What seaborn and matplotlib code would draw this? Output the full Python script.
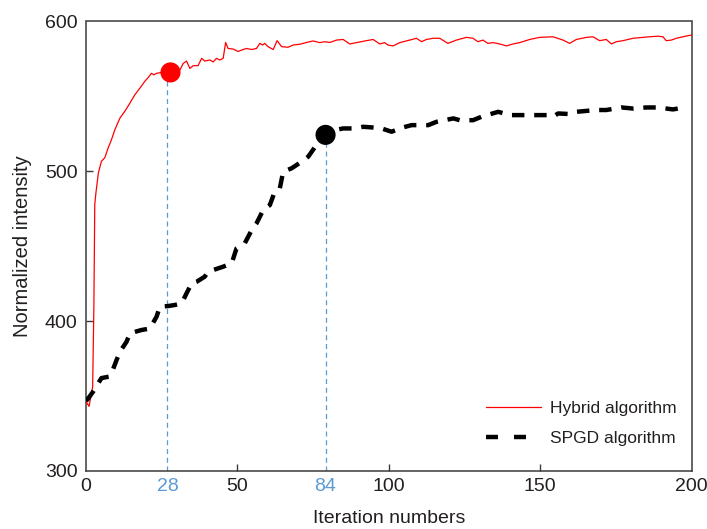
import numpy as np
import pandas as pd
import matplotlib
matplotlib.use("Agg")
import matplotlib.pyplot as plt
import seaborn as sns

# ---------------- data ----------------
hybrid_x = [0, 0.4, 1.0, 2.2, 2.6, 2.9, 3.3, 4.1, 5.1, 6.2, 7.3, 8.4, 9.5, 11.2, 12.8,
            14.5, 16.1, 17.8, 19.4, 20.5, 21.6, 22.4, 23.3, 25.0, 27.9, 31.0, 32.1,
            33.2, 34.3, 35.4, 37.0, 38.2, 39.2, 40.9, 42.0, 43.1, 44.2, 45.3, 46.1,
            46.9, 48.6, 50.2, 51.9, 53.0, 54.7, 56.3, 57.4, 58.3, 59.0, 60.1, 61.8,
            63.1, 64.6, 66.7, 68.4, 70.6, 72.8, 75.0, 77.2, 78.8, 80.5, 82.7, 84.9,
            87.1, 89.3, 92.6, 94.8, 97.0, 98.6, 99.7, 101.4, 103.6, 106.9, 109.1,
            110.8, 112.4, 114.6, 116.8, 119.5, 122.3, 125.6, 127.8, 129.4, 131.1,
            132.7, 134.4, 136.6, 138.8, 141.0, 143.2, 146.5, 149.8, 154.2, 157.5,
            159.7, 161.9, 165.2, 167.4, 169.6, 171.8, 173.5, 175.1, 177.3, 180.6,
            183.9, 186.1, 188.9, 190.5, 191.6, 193.3, 194.9, 197.1, 198.8, 200]
hybrid_y = [346, 345, 343, 356, 410, 478, 486, 499, 506.7, 509, 515.5, 521, 527.6, 535.5, 540,
            545.5, 551, 555.5, 560, 562.5, 565.4, 564.4, 565.4, 566, 566, 567.6, 572,
            573.6, 568.7, 570.5, 570.5, 575.4, 573.6, 574.3, 573, 575.4, 574.3, 575.4, 586,
            582, 581.6, 580, 581.3, 582, 581.3, 582, 585.4, 584.3, 585.4, 583.2, 581.3,
            587.2, 583.2, 582.8, 584.3, 584.8, 586, 587, 585.9, 586.5, 586, 587.6, 588,
            585, 585.9, 587.2, 588, 585, 585.9, 584.3, 583.7, 585.9, 587.6, 588.8,
            586.5, 588, 588.8, 588.8, 585.4, 587.6, 589.4, 588.8, 586.5, 587.6,
            585.4, 585.9, 585, 583.7, 585, 585.9, 588, 589.4, 589.8, 587.6,
            585.4, 588, 589.4, 589.8, 587.2, 588, 585, 586.5, 587.2, 588.8,
            589.4, 589.8, 590.2, 589.8, 587.2, 587.6, 588.8, 589.8, 590.5, 591]

spgd_x = [0, 0.4, 2.4, 5.1, 7.9, 8.4, 10.1, 11.2, 13.4, 14.5, 18.3, 21.1, 23.3, 24.4, 27.1,
          29.3, 31.6, 33.2, 34.9, 36.5, 39.2, 40.3, 45.3, 48.1, 49.7, 52.4, 54.7, 56.3,
          58.5, 60.7, 62.3, 64.0, 65.1, 67.9, 71.2, 73.4, 76.1, 79.1, 82.7, 84.9, 88.7,
          91.5, 94.3, 97.6, 100.9, 104.7, 107.5, 113.0, 115.7, 121.3, 123.4, 127.8,
          130.6, 136.1, 140.0, 143.8, 147.7, 152.6, 154.2, 155.9, 159.7, 161.9, 168.5,
          171.8, 176.8, 180.6, 185.0, 188.9, 193.8, 195.5, 198.0]
spgd_y = [347, 347.4, 353, 361.9, 363, 365, 374, 379.5, 386.2, 391.8, 394, 395, 402.9, 409.6, 410,
          410.7, 411.8, 418.5, 425.2, 426.2, 429.6, 432.9, 436.3, 438.5, 448.5, 451.8, 460.7, 465.2,
          474.1, 477.4, 486.3, 488.6, 499.7, 502, 506.4, 509.8, 517.6, 524.3, 527.7, 528.6, 528.6,
          529.7, 529.3, 528.6, 526.4, 529.3, 530.8, 530.8, 533, 535.3, 534.1, 534.1,
          536.4, 539.7, 537.5, 537.5, 537.5, 537.5, 536.4, 538.6, 538.2, 539.7, 540.9,
          540.9, 542.6, 541.9, 542.6, 542.6, 541.3, 541.9, 542.6]

series_names = ["Hybrid algorithm", "SPGD algorithm"]

highlight_x = [27.9, 79.1]        # convergence points
highlight_y = [566, 524.3]
guide_x = [26.9, 79.1]            # positions of the blue guide lines / labels
guide_labels = ["28", "84"]

xticks = [0, 50, 100, 150, 200]
yticks = [300, 400, 500, 600]

# ---------------- styling ----------------
sns.set_theme(style="ticks")
plt.rcParams["font.family"] = ["Liberation Sans", "DejaVu Sans"]
text_col = "#231F20"
axis_col = "#3a3a3a"
blue = "#5B9BD5"

fig = plt.figure(figsize=(7.07, 5.29), dpi=100)
ax = fig.add_axes([86 / 707, 1 - 470.8 / 529, (691.7 - 86) / 707, (470.8 - 21.5) / 529])

df_h = pd.DataFrame({"x": hybrid_x, "y": hybrid_y, "s": series_names[0]})
df_s = pd.DataFrame({"x": spgd_x, "y": spgd_y, "s": series_names[1]})

sns.lineplot(data=df_h, x="x", y="y", color="#FF0000", lw=0.9, ax=ax,
             estimator=None, sort=False, label=series_names[0], zorder=3)
sns.lineplot(data=df_s, x="x", y="y", color="black", lw=3.2, ax=ax,
             estimator=None, sort=False, label=series_names[1], zorder=3,
             linestyle=(0, (2.8, 2.2)))

# guide lines
for gx, hy in zip(guide_x, highlight_y):
    ax.plot([gx, gx], [300, hy], color=blue, lw=0.9, linestyle=(0, (4, 3)), zorder=2)

# highlight markers
sns.scatterplot(x=highlight_x[:1], y=highlight_y[:1], color="#FF0000", s=210,
                edgecolor="none", ax=ax, zorder=5, legend=False)
sns.scatterplot(x=highlight_x[1:], y=highlight_y[1:], color="black", s=210,
                edgecolor="none", ax=ax, zorder=5, legend=False)

ax.set_xlim(0, 200)
ax.set_ylim(300, 600)

all_ticks = sorted(xticks + guide_x)
labels = []
for t in all_ticks:
    if t in guide_x:
        labels.append(guide_labels[guide_x.index(t)])
    else:
        labels.append(str(int(t)))
ax.set_xticks(all_ticks)
ax.set_xticklabels(labels)
ax.set_yticks(yticks)

ax.tick_params(axis="both", direction="in", length=5, width=1.0, colors=axis_col,
               labelsize=14, labelcolor=text_col)
ax.tick_params(axis="x", pad=5.5)
ax.tick_params(axis="y", pad=6)
for lab, tl, t in zip(ax.get_xticklabels(), ax.xaxis.get_major_ticks(), all_ticks):
    if t in guide_x:
        lab.set_color(blue)
        tl.tick1line.set_visible(False)
    if t in (0, 200):
        tl.tick1line.set_visible(False)
for tl, t in zip(ax.yaxis.get_major_ticks(), yticks):
    if t in (300, 600):
        tl.tick1line.set_visible(False)

for sp in ax.spines.values():
    sp.set_visible(True)
    sp.set_color(axis_col)
    sp.set_linewidth(1.1)

ax.set_xlabel("Iteration numbers", fontsize=14, color=text_col, labelpad=10.5)
ax.set_ylabel("Normalized intensity", fontsize=14.5, color=text_col, labelpad=9)

leg = ax.legend(loc="lower right", bbox_to_anchor=(1.001, 0.021), frameon=False,
                fontsize=12.5, handlelength=3.2, handletextpad=0.5, labelspacing=0.83,
                borderpad=0.4)
for t in leg.get_texts():
    t.set_color(text_col)
leg.legend_handles[1].set_linestyle((0, (2.7, 3.6)))

fig.savefig("out.png", dpi=100)
